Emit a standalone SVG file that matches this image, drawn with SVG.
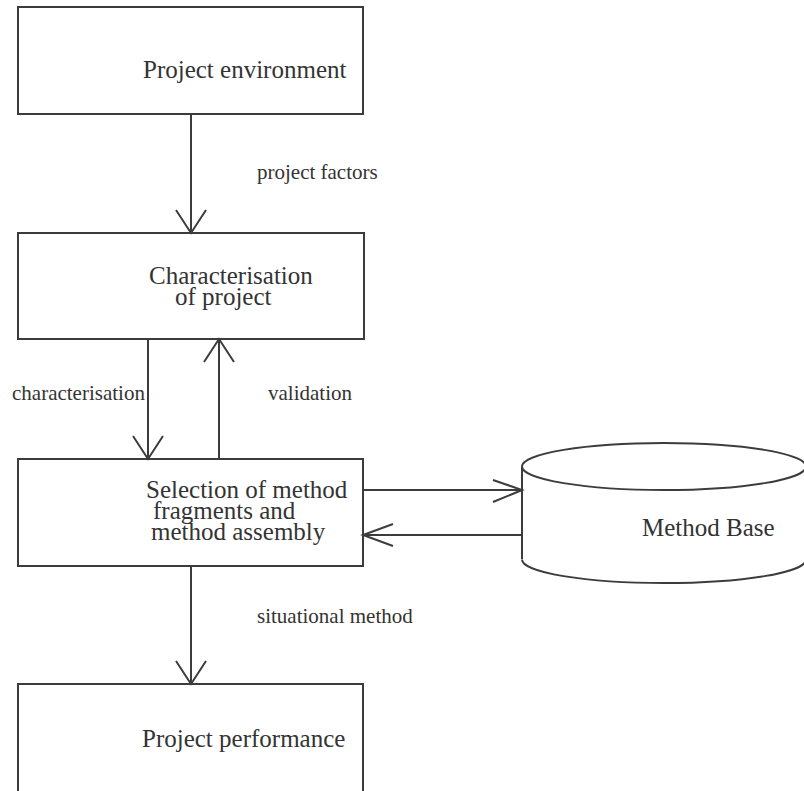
<svg xmlns="http://www.w3.org/2000/svg" width="804" height="791" viewBox="0 0 804 791">
  <style>
    .box { fill: #ffffff; stroke: #3c3c3c; stroke-width: 2; }
    .line { fill: none; stroke: #3c3c3c; stroke-width: 2; }
    .node { font-family: "Liberation Serif", "Times New Roman", serif; font-size: 25px; fill: #333333; }
    .lbl { font-family: "Liberation Serif", "Times New Roman", serif; font-size: 21px; fill: #333333; }
  </style>
  <rect width="804" height="791" fill="#ffffff"/>

  <g id="project-environment">
    <rect class="box" x="18" y="7" width="345" height="107"/>
    <text class="node" x="143" y="78">Project environment</text>
  </g>

  <g id="characterisation">
    <rect class="box" x="18" y="233" width="346" height="106"/>
    <text class="node"><tspan x="149" y="284">Characterisation</tspan><tspan x="175" y="305">of project</tspan></text>
  </g>

  <g id="selection">
    <rect class="box" x="18" y="459" width="345" height="107"/>
    <text class="node"><tspan x="146" y="498">Selection of method</tspan><tspan x="153" y="519">fragments and</tspan><tspan x="151" y="540">method assembly</tspan></text>
  </g>

  <g id="method-base">
    <ellipse class="line" cx="664" cy="466.5" rx="142" ry="23.5"/>
    <path class="line" d="M522,467 V559"/>
    <path class="line" d="M522,559.5 A142,23.5 0 0 0 806,559.5"/>
    <text class="node" x="642" y="536">Method Base</text>
  </g>

  <g id="project-performance">
    <rect class="box" x="18" y="684" width="345" height="120"/>
    <text class="node" x="142" y="747">Project performance</text>
  </g>

  <g id="connectors">
    <!-- environment to characterisation -->
    <path class="line" d="M191,114 V233 M176,210 L191,233 L206,210"/>
    <text class="lbl" x="257" y="179">project factors</text>

    <!-- characterisation down to selection -->
    <path class="line" d="M148,339 V459 M133,436 L148,459 L163,436"/>
    <text class="lbl" x="12" y="400">characterisation</text>

    <!-- validation back up -->
    <path class="line" d="M219,459 V339 M204,362 L219,339 L234,362"/>
    <text class="lbl" x="268" y="400">validation</text>

    <!-- selection to method base -->
    <path class="line" d="M363,490 H522 M493,480 L522,490 L493,502"/>

    <!-- method base back to selection -->
    <path class="line" d="M522,535 H363 M393,524 L363,535 L393,546"/>

    <!-- selection to performance -->
    <path class="line" d="M191,566 V684 M176,661 L191,684 L206,661"/>
    <text class="lbl" x="257" y="623">situational method</text>
  </g>
</svg>
